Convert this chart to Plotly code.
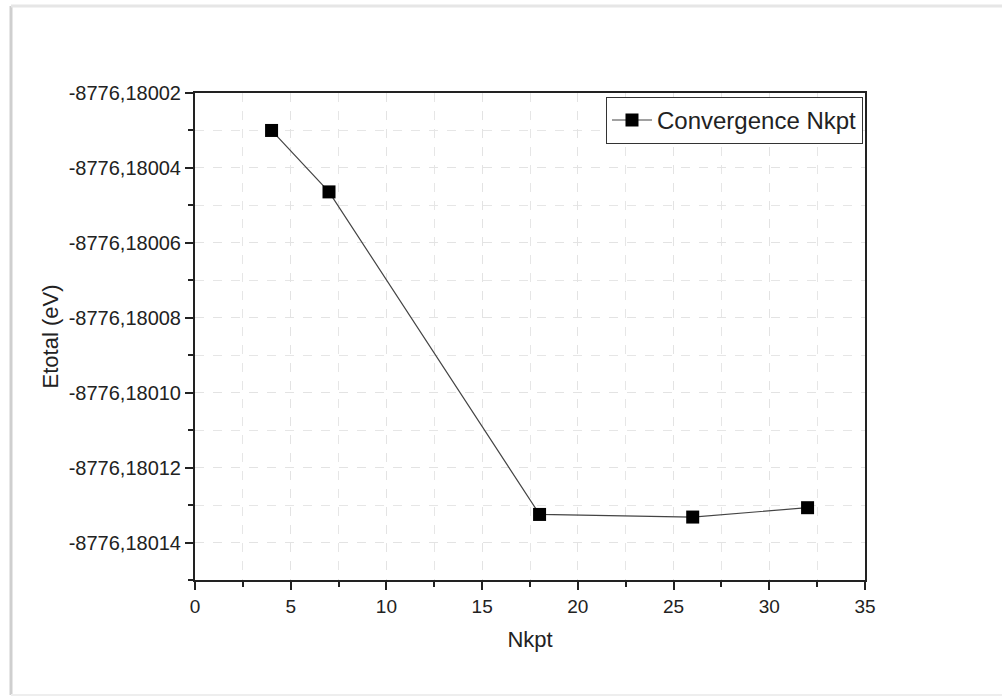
import plotly.graph_objects as go

nkpt = [4, 7, 18, 26, 32]
etotal = [-8776.180030, -8776.1800464, -8776.1801325, -8776.1801332, -8776.1801307]
series_name = "Convergence Nkpt"

y_tickvals = [-8776.18002, -8776.18004, -8776.18006, -8776.18008, -8776.18010, -8776.18012, -8776.18014]
y_ticktext = ["-8776,18002", "-8776,18004", "-8776,18006", "-8776,18008", "-8776,18010", "-8776,18012", "-8776,18014"]

W, H = 1002, 697
L, R, T, B = 195, 865, 93, 580

fig = go.Figure()
fig.add_trace(go.Scatter(
    x=nkpt, y=etotal, mode="lines+markers", name=series_name,
    line=dict(color="#444444", width=1.2),
    marker=dict(symbol="square", size=13, color="black"),
))

def px(xp):
    return (xp - L) / (R - L)

def py(yp):
    return (B - yp) / (B - T)

fig.update_layout(
    width=W, height=H,
    margin=dict(l=L, r=W - R, t=T, b=H - B, pad=0),
    paper_bgcolor="white", plot_bgcolor="white",
    font=dict(family="Liberation Sans, Arial, sans-serif", color="#222222", size=18),
    showlegend=True,
    legend=dict(x=0.997, y=0.992, xanchor="right", yanchor="top",
                bordercolor="#333333", borderwidth=1, bgcolor="white",
                font=dict(size=24), itemwidth=40, tracegroupgap=0),
    xaxis=dict(
        range=[0, 35], dtick=5, tick0=0,
        showline=True, linecolor="#222222", linewidth=2, mirror=True,
        ticks="outside", ticklen=8, tickwidth=2, tickcolor="#222222",
        showgrid=True, gridcolor="#e3e3e3", griddash="dash", gridwidth=1,
        minor=dict(dtick=2.5, ticks="outside", ticklen=5, tickwidth=2, tickcolor="#222222",
                   showgrid=True, gridcolor="#e6e6e6", griddash="dash"),
        zeroline=False,
        title=dict(text="Nkpt", font=dict(size=22), standoff=16),
        tickfont=dict(size=19),
    ),
    yaxis=dict(
        range=[-8776.18015, -8776.18002],
        tickmode="array", tickvals=y_tickvals, ticktext=y_ticktext,
        showline=True, linecolor="#222222", linewidth=2, mirror=True,
        ticks="outside", ticklen=8, tickwidth=2, tickcolor="#222222",
        showgrid=True, gridcolor="#e3e3e3", griddash="dash", gridwidth=1,
        minor=dict(dtick=0.00001, tick0=-8776.18002, ticks="outside", ticklen=5, tickwidth=2,
                   tickcolor="#222222", showgrid=True, gridcolor="#e6e6e6", griddash="dash"),
        zeroline=False,
        title=dict(text="Etotal (eV)", font=dict(size=22), standoff=4),
        tickfont=dict(size=20),
    ),
    shapes=[
        dict(type="line", xref="paper", yref="paper", x0=px(11), x1=px(11), y0=py(6), y1=py(695),
             line=dict(color="#cfcfcf", width=3)),
        dict(type="line", xref="paper", yref="paper", x0=px(11), x1=px(1002), y0=py(6), y1=py(6),
             line=dict(color="#e6e6e6", width=3)),
        dict(type="line", xref="paper", yref="paper", x0=px(11), x1=px(1002), y0=py(695), y1=py(695),
             line=dict(color="#eeeeee", width=2)),
    ],
)

fig.write_html("out.html")
